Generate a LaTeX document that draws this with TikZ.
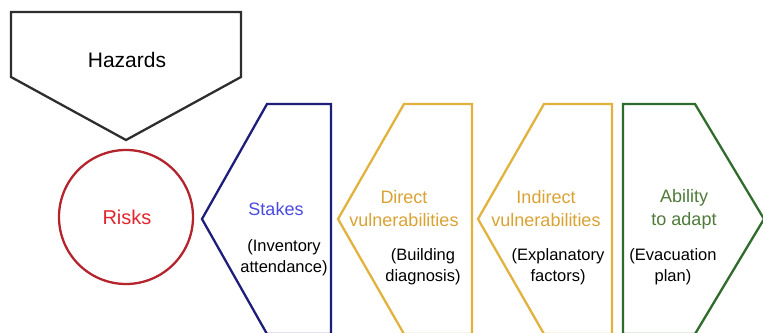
\documentclass[tikz,border=0pt]{standalone}
\usepackage{fontspec}
\setmainfont{Liberation Sans}
\usepackage{xcolor}
\usetikzlibrary{positioning}
\definecolor{hazgray}{HTML}{2E2E2E}
\definecolor{riskline}{HTML}{B3242C}
\definecolor{risktext}{HTML}{E0262E}
\definecolor{stakeline}{HTML}{1E1E7A}
\definecolor{staketext}{HTML}{4A4AE0}
\definecolor{vulnline}{HTML}{E2B23E}
\definecolor{vulntext}{HTML}{D9A232}
\definecolor{adaptline}{HTML}{2F6B2A}
\definecolor{adapttext}{HTML}{4E7A3A}
\begin{document}
\begin{tikzpicture}[x=1pt,y=-1pt,
    shapeline/.style={line width=2.3pt, line join=miter},
    big/.style={font=\fontsize{21}{24}\selectfont, inner sep=1pt},
    head/.style={font=\fontsize{18}{23}\selectfont, align=center, inner sep=1pt},
    sub/.style={font=\fontsize{16.5}{21}\selectfont, align=center, inner sep=1pt}]
    \useasboundingbox (0,0) rectangle (763,332);
    \clip (0,0) rectangle (763,332);

    % shapes
    \draw[shapeline, hazgray] (11,12) -- (241,12) -- (241,77) -- (126,140) -- (11,77) -- cycle;
    \draw[shapeline, riskline] (126,217) circle (67);
    \draw[shapeline, stakeline] (331,104) -- (267,104) -- (202,219) -- (267,334) -- (331,334) -- cycle;
    \draw[shapeline, vulnline] (472,104) -- (404,104) -- (338,219) -- (404,334) -- (472,334) -- cycle;
    \draw[shapeline, vulnline] (612,104) -- (544,104) -- (478,219) -- (544,334) -- (612,334) -- cycle;
    \draw[shapeline, adaptline] (623,104) -- (695,104) -- (764,219) -- (695,334) -- (623,334) -- cycle;

    % labels
    \node[big] (hazards) at (127,60) {Hazards};
    \node[big, font=\fontsize{20}{24}\selectfont, text=risktext] (risks) at (127,217) {Risks};

    \node[head, text=staketext] (stakes) at (276,209) {Stakes};
    \node[sub] (stakesub) at (284,258) {(Inventory\\attendance)};

    \node[head, text=vulntext] (direct) at (404,209) {Direct\\vulnerabilities};
    \node[sub] (directsub) at (423,267) {(Building\\diagnosis)};

    \node[head, text=vulntext] (indirect) at (546,209) {Indirect\\vulnerabilities};
    \node[sub] (indirectsub) at (558,267) {(Explanatory\\factors)};

    \node[head, text=adapttext] (adapt) at (684,209) {Ability\\to adapt};
    \node[sub] (adaptsub) at (673,267) {(Evacuation\\plan)};
\end{tikzpicture}
\end{document}
